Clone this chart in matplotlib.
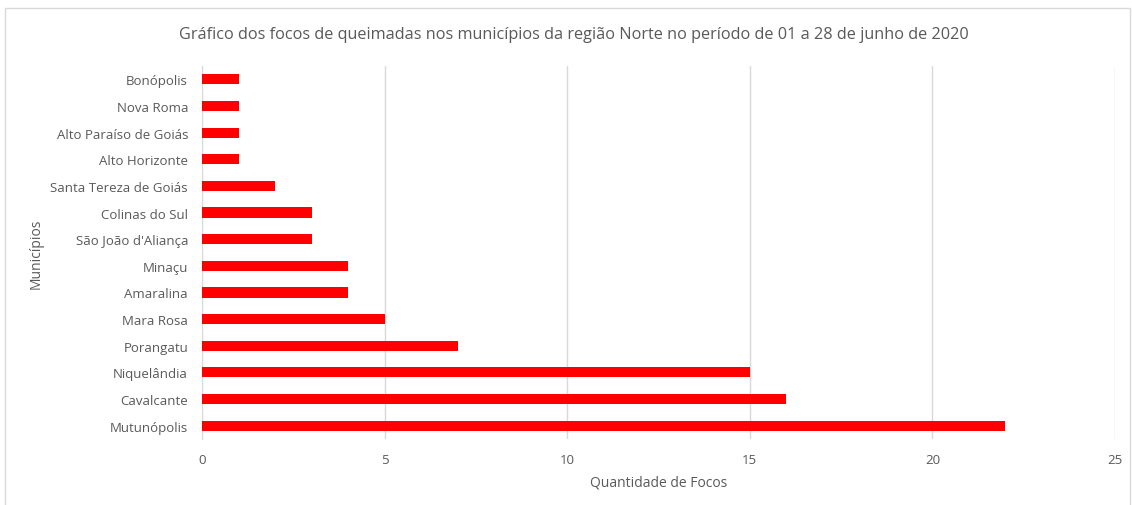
import matplotlib
matplotlib.use("Agg")
import matplotlib.pyplot as plt
from matplotlib.patches import Rectangle

municipios = ["Bonópolis", "Nova Roma", "Alto Paraíso de Goiás", "Alto Horizonte",
              "Santa Tereza de Goiás", "Colinas do Sul", "São João d'Aliança", "Minaçu",
              "Amaralina", "Mara Rosa", "Porangatu", "Niquelândia", "Cavalcante", "Mutunópolis"]
focos = [1, 1, 1, 1, 2, 3, 3, 4, 4, 5, 7, 15, 16, 22]
xticks = [0, 5, 10, 15, 20, 25]

plt.rcParams['font.family'] = ['Open Sans', 'DejaVu Sans']
gray = '#595959'

fig = plt.figure(figsize=(11.32, 5.06), dpi=100)
W, H = 1132, 506
ax = fig.add_axes([202/W, 1-440/H, (1115-202)/W, (440-67)/H])

ypos = list(range(len(municipios)))
ax.barh(ypos, focos, height=0.38, color='#FF0000', zorder=3)
ax.set_ylim(len(municipios)-0.5, -0.5)
ax.set_xlim(0, 25)
ax.set_xticks(xticks)
ax.set_xticklabels([str(t) for t in xticks])
ax.set_yticks(ypos)
ax.set_yticklabels(municipios)
ax.grid(axis='x', color='#D9D9D9', linewidth=1, zorder=0)
for s in ['top', 'right', 'bottom']:
    ax.spines[s].set_visible(False)
ax.spines['left'].set_color('#D9D9D9')
ax.tick_params(axis='both', length=0, labelsize=9.5, labelcolor=gray)
ax.tick_params(axis='x', pad=10)
ax.tick_params(axis='y', pad=10)
ax.set_xlabel('Quantidade de Focos', fontsize=10, color=gray, labelpad=6)
ax.set_ylabel('Municípios', fontsize=10, color=gray, labelpad=5)

fig.text(574/W, 1-35/H, 'Gráfico dos focos de queimadas nos municípios da região Norte no período de 01 a 28 de junho de 2020',
         ha='center', va='center', fontsize=11.7, color=gray)

fig.patches.append(Rectangle((5/W, -0.05), (1130-5)/W, 1-9/H+0.05, transform=fig.transFigure,
                             fill=False, edgecolor='#D9D9D9', linewidth=1))

fig.savefig('out.png', dpi=100)
